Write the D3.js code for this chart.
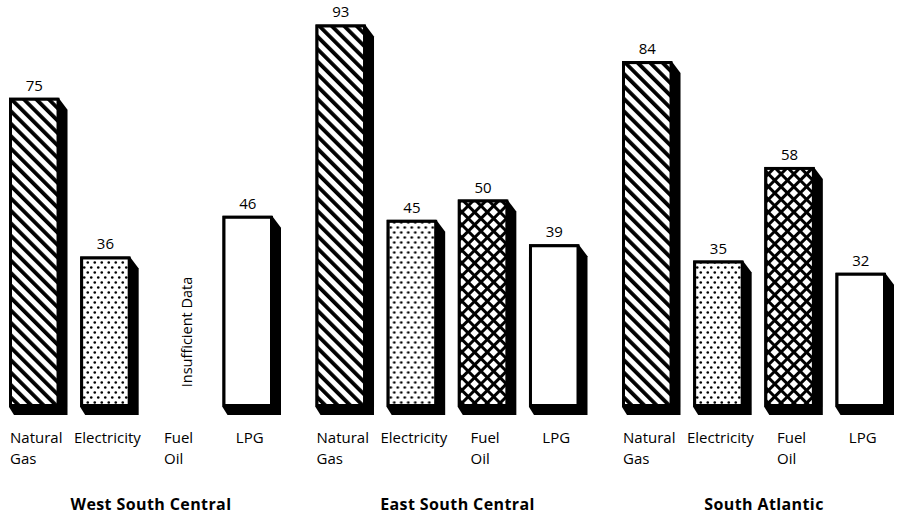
<!DOCTYPE html>
<html>
<head>
<meta charset="utf-8">
<script src="https://cdn.jsdelivr.net/npm/d3@7"></script>
<style>
  html, body { margin: 0; padding: 0; background: #fff; }
  svg { display: block; }
  text { font-family: "Open Sans", "DejaVu Sans", sans-serif; fill: #000; }
</style>
</head>
<body>
<svg id="chart" width="902" height="518"></svg>
<script>
// Regions and fuel types
const regions = ["West South Central", "East South Central", "South Atlantic"];
const fuels = ["Natural Gas", "Electricity", "Fuel Oil", "LPG"];
const fuelLabels = [["Natural", "Gas"], ["Electricity"], ["Fuel", "Oil"], ["LPG"]];

// Values per region, in fuel order (null = no bar)
const westValues = [75, 36, null, 46];
const eastValues = [93, 45, 50, 39];
const southValues = [84, 35, 58, 32];
const missingNote = "Insufficient Data";

const seriesByRegion = [westValues, eastValues, southValues];

const floorY = 407;   // bottom edge of every bar face
const depth = 8;      // shadow offset

const svg = d3.select("#chart");

const x0 = d3.scaleBand().domain(regions).range([9, 928.5]).padding(0);
const x1 = d3.scaleBand().domain(fuels).range([0, 264]).paddingInner(0.29).paddingOuter(0);
const y = d3.scaleLinear().domain([0, 100]).range([403, -4]);

// Fill patterns
const defs = svg.append("defs");

const pNG = defs.append("pattern").attr("id", "pat-ng")
  .attr("patternUnits", "userSpaceOnUse").attr("width", 8.8).attr("height", 8.8)
  .attr("patternTransform", "rotate(-45)");
pNG.append("rect").attr("width", 8.8).attr("height", 8.8).attr("fill", "#fff");
pNG.append("rect").attr("x", 0).attr("width", 3.8).attr("height", 8.8).attr("fill", "#000");

const pEL = defs.append("pattern").attr("id", "pat-el")
  .attr("patternUnits", "userSpaceOnUse").attr("width", 7).attr("height", 10);
pEL.append("rect").attr("width", 7).attr("height", 10).attr("fill", "#fff");
pEL.append("circle").attr("cx", 1.75).attr("cy", 2.5).attr("r", 1.3).attr("fill", "#000");
pEL.append("circle").attr("cx", 5.25).attr("cy", 7.5).attr("r", 1.3).attr("fill", "#000");

const pFO = defs.append("pattern").attr("id", "pat-fo")
  .attr("patternUnits", "userSpaceOnUse").attr("width", 9).attr("height", 9)
  .attr("patternTransform", "rotate(45)");
pFO.append("rect").attr("width", 9).attr("height", 9).attr("fill", "#fff");
pFO.append("rect").attr("x", 0).attr("y", 0).attr("width", 3).attr("height", 9).attr("fill", "#000");
pFO.append("rect").attr("x", 0).attr("y", 0).attr("width", 9).attr("height", 3).attr("fill", "#000");

const fills = {
  "Natural Gas": "url(#pat-ng)",
  "Electricity": "url(#pat-el)",
  "Fuel Oil": "url(#pat-fo)",
  "LPG": "#fff"
};

const rows = [];
regions.forEach((r, ri) => {
  fuels.forEach((f, fi) => {
    rows.push({ region: r, fuel: f, fi, value: seriesByRegion[ri][fi] });
  });
});

const groups = svg.selectAll("g.region").data(regions).join("g")
  .attr("class", "region")
  .attr("transform", d => `translate(${x0(d)},0)`);

groups.each(function (region) {
  const g = d3.select(this);
  const data = rows.filter(d => d.region === region);
  const bw = x1.bandwidth();

  const bars = data.filter(d => d.value != null);

  // drop shadow / extrusion
  g.selectAll("path.shadow").data(bars).join("path")
    .attr("class", "shadow")
    .attr("fill", "#000")
    .attr("d", d => {
      const a = x1(d.fuel), b = a + bw, t = y(d.value);
      return d3.line()([
        [a, t], [b - 1, t], [b + depth, t + 12], [b + depth, floorY + depth],
        [a + 5, floorY + depth], [a, floorY]
      ]) + "Z";
    });

  // bar faces
  g.selectAll("rect.face").data(bars).join("rect")
    .attr("class", "face")
    .attr("x", d => x1(d.fuel) + 1.5)
    .attr("y", d => y(d.value) + 1.5)
    .attr("width", bw - 3)
    .attr("height", d => floorY - y(d.value) - 3)
    .attr("fill", d => fills[d.fuel])
    .attr("stroke", "#000")
    .attr("stroke-width", 3);

  // value labels
  g.selectAll("text.value").data(bars).join("text")
    .attr("class", "value")
    .attr("x", d => x1(d.fuel) + bw / 2)
    .attr("y", d => y(d.value) - 7)
    .attr("text-anchor", "middle")
    .attr("font-size", 15)
    .text(d => d.value);

  // missing-data note
  data.filter(d => d.value == null).forEach(d => {
    g.append("text")
      .attr("transform", `translate(${x1(d.fuel) + bw / 2 + 15},${332}) rotate(-90)`)
      .attr("text-anchor", "middle")
      .attr("font-size", 14.5)
      .text(missingNote);
  });

  // category labels: block centred on the slot, lines left-aligned
  data.forEach(d => {
    const lines = fuelLabels[d.fi];
    const cx = x1(d.fuel) + bw / 2 + 2;
    let left = null;
    lines.forEach((ln, i) => {
      const t = g.append("text")
        .attr("font-size", 15)
        .attr("y", 443 + i * 20.5)
        .text(ln);
      if (left === null) left = cx - t.node().getComputedTextLength() / 2;
      t.attr("x", left);
    });
  });

  // region title
  g.append("text")
    .attr("x", 264 / 2 + 10)
    .attr("y", 510)
    .attr("text-anchor", "middle")
    .attr("font-size", 16)
    .attr("font-weight", "bold")
    .attr("letter-spacing", 0.4)
    .text(region);
});
</script>
</body>
</html>
